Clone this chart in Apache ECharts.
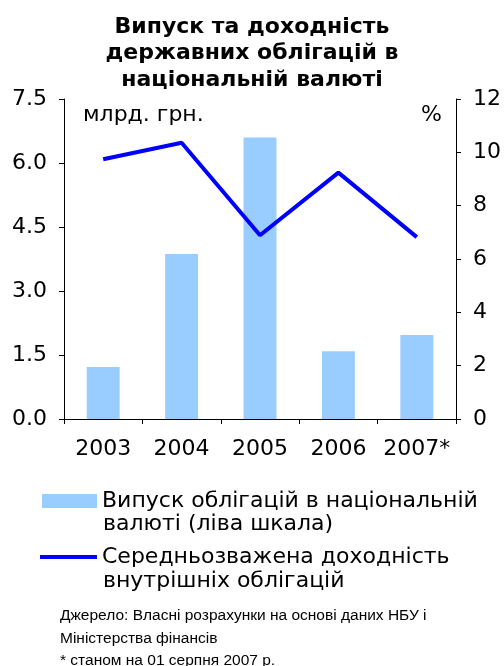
<!DOCTYPE html>
<html><head><meta charset="utf-8">
<script src="https://cdn.jsdelivr.net/npm/echarts@6/dist/echarts.min.js"></script>
<style>html,body{margin:0;padding:0;background:#fff}#c{width:504px;height:666px}</style>
</head><body><div id="c"></div>
<script>
const categories = ['2003', '2004', '2005', '2006', '2007*'];
const issueValues = [1.22, 3.87, 6.6, 1.59, 1.97];
const yieldValues = [9.74, 10.36, 6.89, 9.24, 6.82];
const leftTicks = [0, 1.5, 3.0, 4.5, 6.0, 7.5];
const rightTicks = [0, 2, 4, 6, 8, 10, 12];
const barName = 'Випуск облігацій в національній';
const lineName = 'Середньозважена доходність';

const chart = echarts.init(document.getElementById('c'));
const F = '"DejaVu Sans"';
const axisFont = { fontFamily: 'DejaVu Sans', fontSize: 22, color: '#000' };
chart.setOption({
  animation: false,
  title: {
    text: 'Випуск та доходність\nдержавних облігацій в\nнаціональній валюті',
    left: 'center', top: 9,
    textStyle: { fontFamily: 'DejaVu Sans', fontSize: 22, fontWeight: 'bold', lineHeight: 26.5, color: '#000' }
  },
  grid: { left: 64, right: 46, top: 99, bottom: 247 },
  legend: [
    { left: 42, top: 490, padding: 0, itemWidth: 55, itemHeight: 14, itemGap: 0,
      textStyle: { fontFamily: 'DejaVu Sans', fontSize: 22, color: '#000' },
      data: [{ name: barName, icon: 'rect' }] },
    { left: 40, top: 546, padding: 0, itemWidth: 57, itemHeight: 4, itemGap: 0,
      textStyle: { fontFamily: 'DejaVu Sans', fontSize: 22, color: '#000' },
      data: [{ name: lineName, icon: 'rect' }] }
  ],
  xAxis: {
    type: 'category', data: categories,
    axisLine: { lineStyle: { color: '#000', width: 1 } },
    axisTick: { show: true, inside: false, length: 5, lineStyle: { color: '#000' } },
    axisLabel: Object.assign({ margin: 19, interval: 0, hideOverlap: false }, axisFont)
  },
  yAxis: [
    { type: 'value', min: 0, max: 7.5, interval: 1.5, position: 'left',
      axisLine: { show: true, lineStyle: { color: '#000' } },
      axisTick: { show: true, length: 5, lineStyle: { color: '#000' } },
      splitLine: { show: false },
      axisLabel: Object.assign({ margin: 17, formatter: v => v.toFixed(1) }, axisFont) },
    { type: 'value', min: 0, max: 12, interval: 2, position: 'right',
      axisLine: { show: true, lineStyle: { color: '#000' } },
      axisTick: { show: true, length: 5, lineStyle: { color: '#000' } },
      splitLine: { show: false },
      axisLabel: Object.assign({ margin: 17 }, axisFont) }
  ],
  series: [
    { name: barName, type: 'bar', yAxisIndex: 0, data: issueValues, barWidth: '42%',
      itemStyle: { color: '#99CCFF' } },
    { name: lineName, type: 'line', yAxisIndex: 1, data: yieldValues, showSymbol: false, symbol: 'none',
      lineStyle: { color: '#0000FF', width: 4 }, itemStyle: { color: '#0000FF' } }
  ],
  graphic: [
    { type: 'text', x: 83, y: 115, style: { text: 'млрд. грн.', font: '22px ' + F, fill: '#000', verticalAlign: 'middle' } },
    { type: 'text', x: 421, y: 115, style: { text: '%', font: '22px ' + F, fill: '#000', verticalAlign: 'middle' } },
    { type: 'text', x: 103, y: 524, style: { text: 'валюті (ліва шкала)', font: '22px ' + F, fill: '#000', verticalAlign: 'middle' } },
    { type: 'text', x: 103, y: 581, style: { text: 'внутрішніх облігацій', font: '22px ' + F, fill: '#000', verticalAlign: 'middle' } },
    { type: 'text', x: 60, y: 616, style: { text: 'Джерело: Власні розрахунки на основі даних НБУ і', font: '15.5px "Liberation Sans"', fill: '#000', verticalAlign: 'middle' } },
    { type: 'text', x: 60, y: 639, style: { text: 'Міністерства фінансів', font: '15.5px "Liberation Sans"', fill: '#000', verticalAlign: 'middle' } },
    { type: 'text', x: 60, y: 661, style: { text: '* станом на 01 серпня 2007 р.', font: '15.5px "Liberation Sans"', fill: '#000', verticalAlign: 'middle' } }
  ]
});
</script></body></html>
